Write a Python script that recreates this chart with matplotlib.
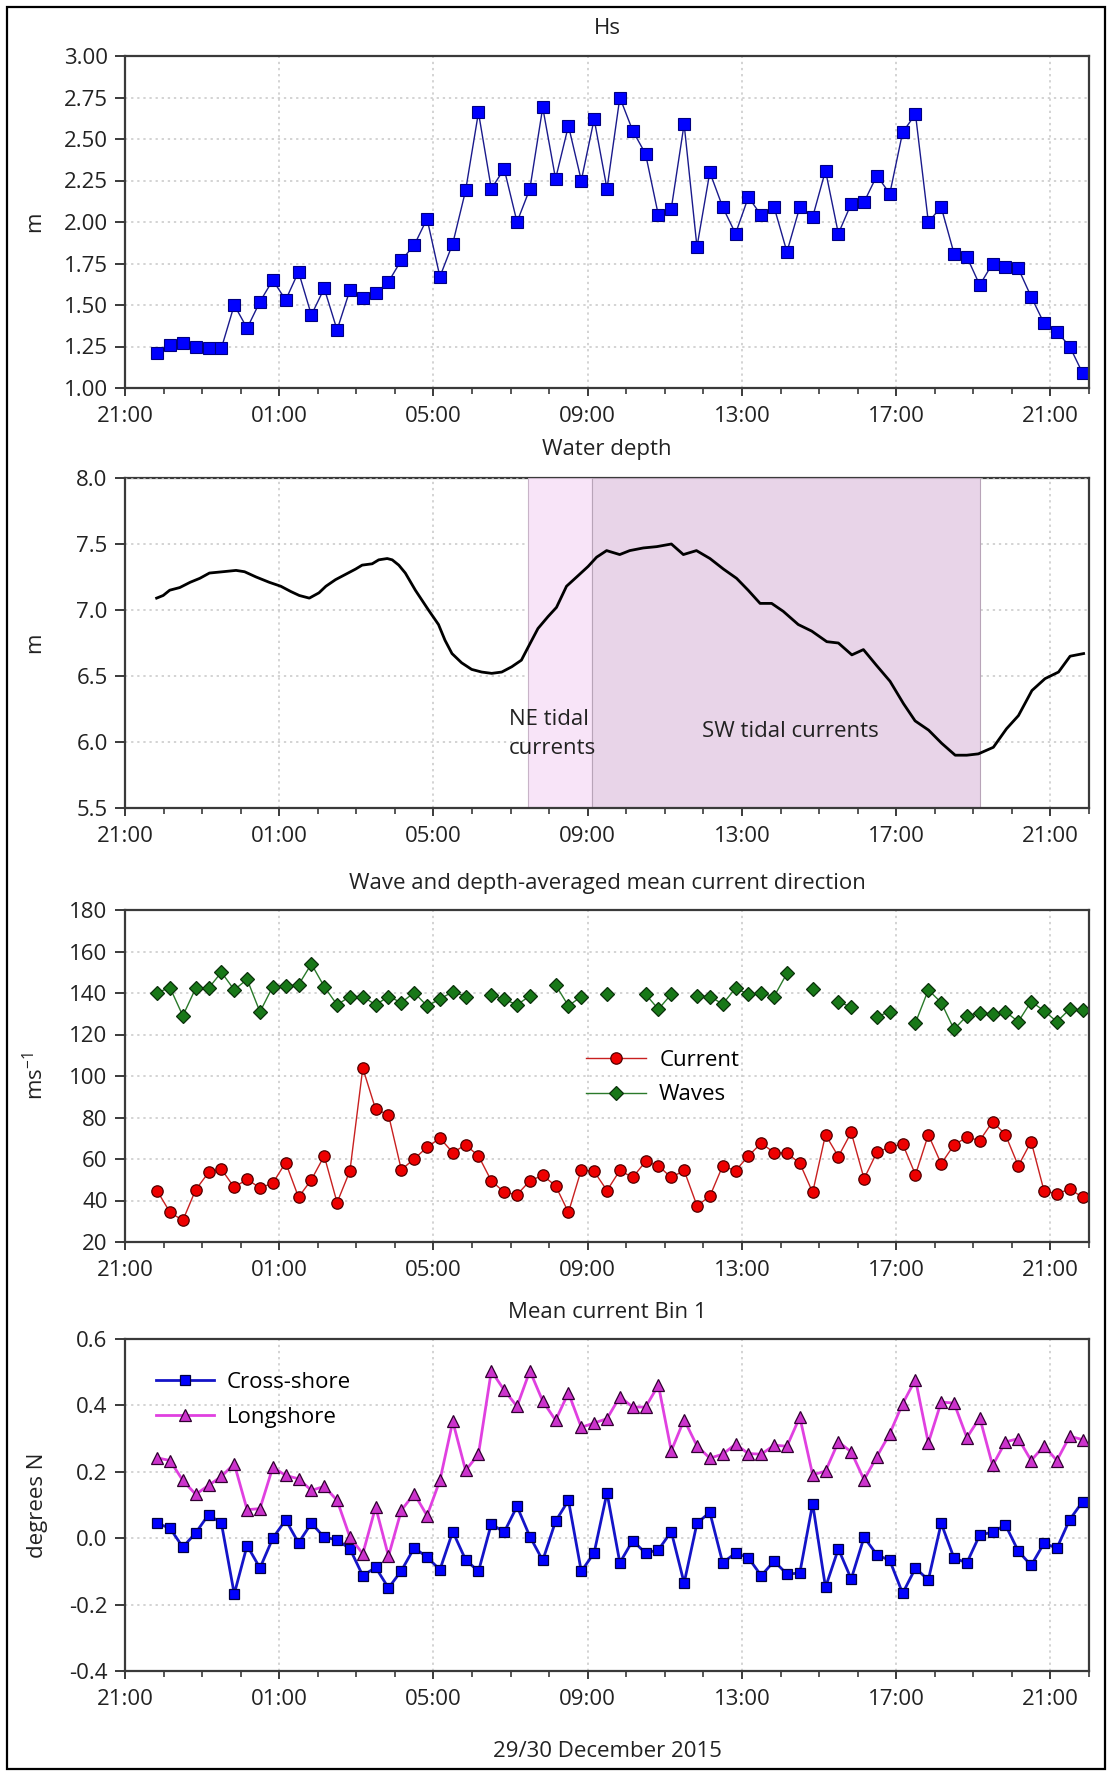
import numpy as np
import pandas as pd
import matplotlib
matplotlib.use('Agg')
import matplotlib.pyplot as plt
import matplotlib.dates as mdates
from matplotlib.patches import Rectangle

plt.rcParams['font.family'] = ['Open Sans', 'DejaVu Sans']
plt.rcParams['axes.unicode_minus'] = False
plt.rcParams['mathtext.fontset'] = 'custom'
plt.rcParams['mathtext.rm'] = 'Open Sans'
plt.rcParams['mathtext.it'] = 'Open Sans'
plt.rcParams['mathtext.default'] = 'regular'

# 20-minute records, 29/30 December 2015
t0 = pd.Timestamp('2015-12-29 21:00')
times = pd.date_range('2015-12-29 21:50', periods=73, freq='20min')

hs = [1.21, 1.26, 1.27, 1.25, 1.24, 1.24, 1.50, 1.36, 1.52, 1.65,
      1.53, 1.70, 1.44, 1.60, 1.35, 1.59, 1.54, 1.57, 1.64, 1.77,
      1.86, 2.02, 1.67, 1.87, 2.19, 2.66, 2.20, 2.32, 2.00, 2.20,
      2.69, 2.26, 2.58, 2.25, 2.62, 2.20, 2.75, 2.55, 2.41, 2.04,
      2.08, 2.59, 1.85, 2.30, 2.09, 1.93, 2.15, 2.04, 2.09, 1.82,
      2.09, 2.03, 2.31, 1.93, 2.11, 2.12, 2.28, 2.17, 2.54, 2.65,
      2.00, 2.09, 1.81, 1.79, 1.62, 1.75, 1.73, 1.72, 1.55, 1.39,
      1.34, 1.25, 1.09]

# water depth, hours after 21:00
depth_hours = [0.82, 0.99, 1.16, 1.42, 1.69, 1.94, 2.19, 2.54, 2.88, 3.10,
               3.40, 3.74, 4.04, 4.30, 4.52, 4.78, 5.03, 5.21, 5.46, 5.72,
               5.98, 6.15, 6.41, 6.58, 6.80, 6.93, 7.10, 7.27, 7.53, 7.87,
               8.13, 8.30, 8.48, 8.73, 8.99, 9.25, 9.51, 9.77, 10.03, 10.28,
               10.44, 10.71, 10.97, 11.19, 11.45, 11.75, 12.01, 12.23, 12.49, 12.83,
               13.09, 13.44, 13.79, 14.17, 14.48, 14.82, 15.17, 15.52, 15.86, 16.16,
               16.47, 16.77, 17.07, 17.46, 17.81, 18.20, 18.50, 18.85, 19.15, 19.49,
               19.84, 20.19, 20.49, 20.84, 21.18, 21.53, 21.83, 22.13, 22.52, 22.86,
               23.17, 23.52, 23.86, 24.21, 24.51, 24.86]
depth = [7.09, 7.11, 7.15, 7.17, 7.21, 7.24, 7.28, 7.29, 7.30, 7.29,
         7.25, 7.21, 7.18, 7.14, 7.11, 7.09, 7.13, 7.18, 7.23, 7.27,
         7.31, 7.34, 7.35, 7.38, 7.39, 7.38, 7.34, 7.28, 7.15, 7.00,
         6.89, 6.77, 6.67, 6.60, 6.55, 6.53, 6.52, 6.53, 6.57, 6.62,
         6.71, 6.86, 6.95, 7.02, 7.18, 7.26, 7.33, 7.40, 7.45, 7.42,
         7.45, 7.47, 7.48, 7.50, 7.42, 7.45, 7.39, 7.31, 7.24, 7.15,
         7.05, 7.05, 6.99, 6.89, 6.84, 6.76, 6.75, 6.66, 6.70, 6.58,
         6.46, 6.29, 6.16, 6.09, 5.99, 5.90, 5.90, 5.91, 5.96, 6.10,
         6.20, 6.39, 6.48, 6.53, 6.65, 6.67]

# tidal current phases (hours after 21:00)
ne_start, ne_end = 10.45, 12.12
sw_start, sw_end = 12.12, 22.18

current_dir = [44.7, 34.3, 30.4, 45.2, 53.5, 55.1, 46.3, 50.3, 46.0, 48.4,
               58.3, 41.6, 50.0, 61.5, 39.0, 54.3, 103.8, 84.0, 81.3, 54.8,
               60.1, 65.6, 70.1, 63.1, 66.8, 61.5, 49.5, 44.0, 42.8, 49.5,
               52.1, 47.1, 34.3, 54.8, 54.0, 44.8, 54.5, 51.1, 58.8, 56.7,
               51.1, 54.5, 37.5, 42.0, 56.7, 54.3, 61.5, 67.6, 63.1, 62.8,
               58.0, 43.9, 71.7, 61.2, 72.8, 50.5, 63.3, 65.7, 67.3, 52.4,
               71.7, 57.7, 66.8, 70.5, 68.9, 78.0, 71.7, 56.7, 68.4, 44.7,
               43.2, 45.5, 41.6]
nan = np.nan
wave_dir = [140.2, 142.6, 129.0, 142.3, 142.3, 150.0, 141.5, 146.6, 130.9, 143.1,
            143.4, 143.9, 154.0, 143.1, 134.3, 138.3, 138.3, 134.3, 138.3, 135.4,
            140.2, 133.8, 137.0, 140.7, 138.3, nan, 139.1, 137.0, 134.3, 138.6,
            nan, 143.9, 133.8, 138.3, nan, 139.4, nan, nan, 139.4, 132.2,
            139.4, nan, 138.6, 138.3, 134.7, 142.3, 139.4, 139.9, 138.3, 149.5,
            nan, 141.8, nan, 135.9, 133.1, nan, 128.6, 131.0, nan, 125.7,
            141.5, 135.4, 122.5, 129.0, 130.6, 129.8, 131.0, 126.2, 135.9, 131.4,
            126.2, 132.2, 131.8]

cross_shore = [0.045, 0.030, -0.027, 0.016, 0.071, 0.045, -0.168, -0.022, -0.090, 0.000,
               0.055, -0.014, 0.045, 0.003, -0.005, -0.032, -0.113, -0.088, -0.150, -0.098,
               -0.029, -0.057, -0.095, 0.020, -0.065, -0.100, 0.043, 0.018, 0.096, 0.005,
               -0.067, 0.051, 0.114, -0.100, -0.044, 0.137, -0.074, -0.007, -0.045, -0.035,
               0.020, -0.135, 0.045, 0.078, -0.074, -0.045, -0.059, -0.113, -0.069, -0.108,
               -0.105, 0.104, -0.148, -0.032, -0.123, 0.003, -0.050, -0.067, -0.166, -0.090,
               -0.126, 0.045, -0.060, -0.074, 0.010, 0.018, 0.040, -0.039, -0.082, -0.015,
               -0.030, 0.056, 0.110]
longshore = [0.242, 0.234, 0.174, 0.132, 0.159, 0.186, 0.224, 0.086, 0.089, 0.214,
             0.189, 0.179, 0.144, 0.156, 0.114, 0.003, -0.047, 0.094, -0.054, 0.084,
             0.134, 0.068, 0.174, 0.352, 0.204, 0.253, 0.504, 0.446, 0.397, 0.504,
             0.413, 0.355, 0.438, 0.334, 0.347, 0.360, 0.426, 0.395, 0.395, 0.461,
             0.263, 0.357, 0.278, 0.241, 0.253, 0.283, 0.255, 0.253, 0.280, 0.277,
             0.365, 0.191, 0.202, 0.290, 0.260, 0.176, 0.246, 0.315, 0.405, 0.478,
             0.287, 0.410, 0.407, 0.303, 0.363, 0.219, 0.290, 0.300, 0.234, 0.278,
             0.234, 0.307, 0.297]

W, H = 1111, 1772
fig = plt.figure(figsize=(W / 100, H / 100), dpi=100)
fig.patch.set_facecolor('white')

FS = 16
TXT = '#222222'
left_px, right_px = 125, 1089
panels_px = [(56, 388), (478, 808), (910, 1242), (1339, 1671)]


def make_axes(top, bottom):
    ax = fig.add_axes([left_px / W, 1 - bottom / H,
                       (right_px - left_px) / W, (bottom - top) / H])
    ax.set_xlim(t0, t0 + pd.Timedelta(hours=25))
    ax.xaxis.set_major_locator(mdates.HourLocator(byhour=[1, 5, 9, 13, 17, 21]))
    ax.xaxis.set_minor_locator(mdates.HourLocator())
    ax.xaxis.set_major_formatter(mdates.DateFormatter('%H:%M'))
    for s in ax.spines.values():
        s.set_color('#3a3a3a')
        s.set_linewidth(1.6)
    ax.tick_params(axis='x', which='major', direction='out', length=6, width=1.4,
                   pad=7, labelsize=FS, colors='#3a3a3a', labelcolor=TXT)
    ax.tick_params(axis='x', which='minor', direction='out', length=4, width=1.2,
                   colors='#3a3a3a')
    ax.tick_params(axis='y', which='major', direction='out', length=7.5, width=1.4,
                   pad=5, labelsize=FS, colors='#3a3a3a', labelcolor=TXT)
    ax.grid(True, which='major', color='#c8c8c8', linestyle=(0, (1.5, 2.5)), linewidth=1.1)
    ax.set_axisbelow(True)
    return ax


def title(y_px, text):
    fig.text((left_px + right_px) / 2 / W, 1 - y_px / H, text, ha='center',
             va='center', fontsize=FS, color=TXT)


# Hs
ax1 = make_axes(*panels_px[0])
ax1.plot(times, hs, color='#1a1a8c', lw=1.0, marker='s', ms=8.6,
         mfc='#0000ff', mec='#000080', mew=0.8)
ax1.set_ylim(1.0, 3.0)
ax1.set_yticks(np.arange(1.0, 3.01, 0.25))
ax1.yaxis.set_major_formatter(matplotlib.ticker.FormatStrFormatter('%.2f'))
ax1.set_ylabel('m', fontsize=FS, color=TXT)
ax1.yaxis.set_label_coords(-0.083, 0.5)
title(28, 'Hs')

# Water depth
ax2 = make_axes(*panels_px[1])
ax2.spines['top'].set_zorder(0.5)
ax2.axvspan(t0 + pd.Timedelta(hours=ne_start), t0 + pd.Timedelta(hours=ne_end),
            facecolor='#f8e4f8', edgecolor='#c8b4c8', lw=0.8, zorder=1)
ax2.axvspan(t0 + pd.Timedelta(hours=sw_start), t0 + pd.Timedelta(hours=sw_end),
            facecolor='#e8d4e8', edgecolor='#b8a4b8', lw=0.8, zorder=1)
ax2.plot(t0 + pd.to_timedelta(depth_hours, unit='h'), depth, color='black', lw=2.0, zorder=3)
ax2.set_ylim(5.5, 8.0)
ax2.set_yticks(np.arange(5.5, 8.01, 0.5))
ax2.yaxis.set_major_formatter(matplotlib.ticker.FormatStrFormatter('%.1f'))
ax2.set_ylabel('m', fontsize=FS, color=TXT)
ax2.yaxis.set_label_coords(-0.083, 0.5)
ax2.text(t0 + pd.Timedelta(hours=9.95), 6.06, 'NE tidal\ncurrents', fontsize=FS,
         color=TXT, ha='left', va='center', linespacing=1.55, zorder=4)
ax2.text(t0 + pd.Timedelta(hours=17.25), 6.08, 'SW tidal currents', fontsize=FS,
         color=TXT, ha='center', va='center', zorder=4)
title(450, 'Water depth')

# Directions
ax3 = make_axes(*panels_px[2])
ax3.plot(times, current_dir, color='#c82020', lw=1.0, marker='o', ms=8.2,
         mfc='#ee0000', mec='#500000', mew=0.9, label='Current')
ax3.plot(times, wave_dir, color='#2a7a2a', lw=1.0, marker='D', ms=7.6,
         mfc='#187818', mec='#0a300a', mew=0.9, label='Waves')
ax3.set_ylim(20, 180)
ax3.set_yticks(np.arange(20, 181, 20))
ax3.set_ylabel('ms$^{-1}$', fontsize=FS, color=TXT)
ax3.yaxis.set_label_coords(-0.08, 0.5)
ax3.legend(loc='upper left', bbox_to_anchor=(0.478, 0.578), frameon=False,
           fontsize=FS, handlelength=2.7, handletextpad=0.6, labelspacing=0.6,
           borderpad=0, borderaxespad=0)
title(883, 'Wave and depth-averaged mean current direction')

# Mean current Bin 1
ax4 = make_axes(*panels_px[3])
ax4.plot(times, cross_shore, color='#1414c8', lw=2.0, marker='s', ms=7.8,
         mfc='#0000ff', mec='#000040', mew=0.9, label='Cross-shore')
ax4.plot(times, longshore, color='#e040e0', lw=2.0, marker='^', ms=8.4,
         mfc='#cc33cc', mec='#300030', mew=0.9, label='Longshore')
ax4.set_ylim(-0.4, 0.6)
ax4.set_yticks(np.arange(-0.4, 0.61, 0.2))
ax4.yaxis.set_major_formatter(matplotlib.ticker.FormatStrFormatter('%.1f'))
ax4.set_ylabel('degrees N', fontsize=FS, color=TXT)
ax4.yaxis.set_label_coords(-0.08, 0.5)
ax4.legend(loc='upper left', bbox_to_anchor=(0.032, 0.9), frameon=False,
           fontsize=FS, handlelength=2.6, handletextpad=0.6, labelspacing=0.6,
           borderpad=0, borderaxespad=0)
title(1312, 'Mean current Bin 1')
ax4.set_xlabel('29/30 December 2015', fontsize=FS, color=TXT, labelpad=22)

# outer frame
fig.patches.append(Rectangle((7 / W, 3 / H), 1 - 13 / W, 1 - 10 / H,
                             transform=fig.transFigure, fill=False,
                             edgecolor='black', lw=1.6))

fig.savefig('out.png', dpi=100, facecolor='white')
